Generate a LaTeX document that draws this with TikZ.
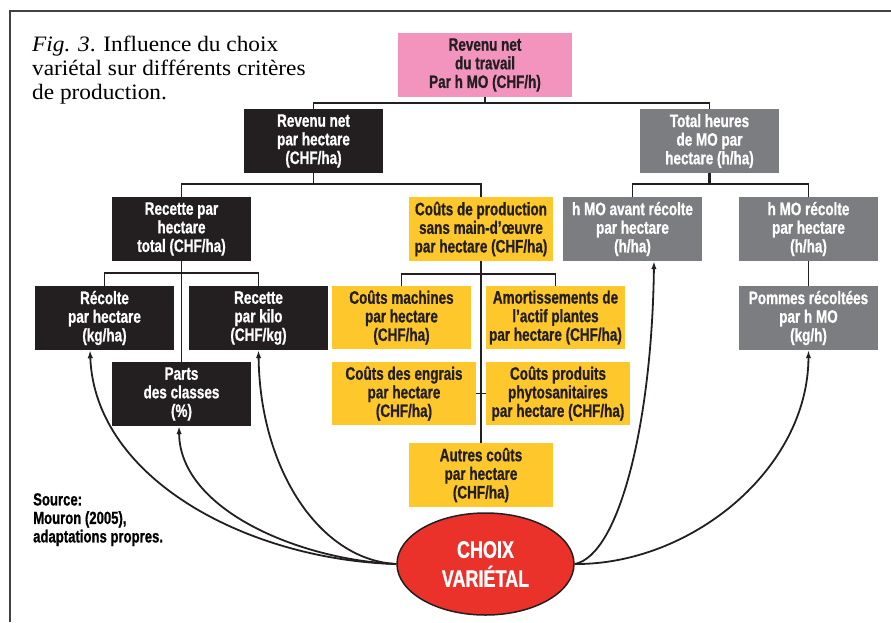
\documentclass[tikz,border=0pt]{standalone}
\usepackage{fontspec}
\setmainfont{Liberation Serif}
\newfontfamily\cond{Liberation Sans}[FakeStretch=0.75,FakeBold=0.8]
\newfontfamily\titlefont{Liberation Serif}[FakeStretch=1.06]
\usetikzlibrary{arrows.meta,shapes.geometric}
\definecolor{ink}{HTML}{231F20}
\definecolor{pinkbox}{HTML}{F294BE}
\definecolor{graybox}{HTML}{7C7D81}
\definecolor{yellowbox}{HTML}{FEC82C}
\definecolor{redell}{HTML}{EA322B}
\begin{document}
\begin{tikzpicture}[x=1pt,y=-1pt,
 box/.style={rectangle, inner sep=0pt, align=center, minimum height=64pt, minimum width=139pt, font=\cond\bfseries\fontsize{18}{18.6}\selectfont},
 blackbox/.style={box, fill=ink, text=white},
 greybox/.style={box, fill=graybox, text=white},
 yelbox/.style={box, fill=yellowbox, text=ink},
 pinkb/.style={box, fill=pinkbox, text=ink},
 tree/.style={draw=ink, line width=1.3pt},
 trunk/.style={draw=ink, line width=2.2pt},
 link/.style={draw=ink, line width=1.8pt, -{Latex[length=8pt,width=5.5pt]}},
 frame/.style={draw=ink!85, line width=1.5pt},
]
\useasboundingbox (0,0) rectangle (891,622);
\draw[frame] (10,622) -- (10,11) -- (891,11);

\node[anchor=north west, inner sep=0pt, align=left, font=\titlefont\fontsize{22}{24}\selectfont] (title) at (32,36) {\textit{Fig. 3}. Influence du choix\\variétal sur différents critères\\de production.};
\node[anchor=north west, inner sep=0pt, align=left, font=\cond\bfseries\fontsize{17.5}{18.5}\selectfont] (src) at (33,493) {Source:\\Mouron (2005),\\adaptations propres.};

\node[pinkb, minimum width=174pt] (pink) at (485,65) {Revenu net\\du travail\\Par h MO (CHF/h)};
\node[blackbox] (rn) at (313.5,141) {Revenu net\\par hectare\\(CHF/ha)};
\node[greybox] (th) at (709.5,141) {Total heures\\de MO par\\hectare (h/ha)};
\node[blackbox] (rph) at (181.5,229) {Recette par\\hectare\\total (CHF/ha)};
\node[yelbox, minimum width=144pt] (cp) at (481,229) {Coûts de production\\sans main-d’œuvre\\par hectare (CHF/ha)};
\node[greybox] (hav) at (632.5,229) {h MO avant récolte\\par hectare\\(h/ha)};
\node[greybox] (hr) at (808.5,229) {h MO récolte\\par hectare\\(h/ha)};
\node[blackbox] (rec) at (104.5,318) {Récolte\\par hectare\\(kg/ha)};
\node[blackbox] (rpk) at (258.5,318) {Recette\\par kilo\\(CHF/kg)};
\node[blackbox] (parts) at (181.5,394) {Parts\\des classes\\(\%)};
\node[yelbox, minimum height=63pt] (cm) at (401.5,317.5) {Coûts machines\\par hectare\\(CHF/ha)};
\node[yelbox, minimum height=63pt] (am) at (555.5,317.5) {Amortissements de\\l’actif plantes\\par hectare (CHF/ha)};
\node[yelbox, minimum height=63pt, minimum width=144pt] (ce) at (404,393.5) {Coûts des engrais\\par hectare\\(CHF/ha)};
\node[yelbox, minimum height=63pt, minimum width=144pt] (phy) at (558,393.5) {Coûts produits\\phytosanitaires\\par hectare (CHF/ha)};
\node[yelbox, minimum width=144pt] (ac) at (481,475) {Autres coûts\\par hectare\\(CHF/ha)};
\node[greybox] (pom) at (808.5,318) {Pommes récoltées\\par h MO\\(kg/h)};
\node[ellipse, fill=redell, draw=ink, line width=1.5pt, minimum width=177pt, minimum height=102pt, inner sep=0pt, text=white, align=center, font=\cond\bfseries\fontsize{24}{29}\selectfont] (cv) at (485.5,564) {CHOIX\\VARIÉTAL};

\coordinate (bus1) at (0,103);
\coordinate (bus2) at (0,184);
\coordinate (bus3) at (0,273);
\coordinate (bus4) at (0,274);
\draw[tree] (pink.south) -- (pink.south |- bus1);
\draw[tree] (rn.north) -- (rn.north |- bus1) -| (th.north);
\draw[tree] (rn.south) -- (rn.south |- bus2);
\draw[tree] (rph.north) -- (rph.north |- bus2) -| (cp.north);
\draw[trunk] (th.south) -- (th.south |- bus2);
\draw[tree] (hav.north) -- (hav.north |- bus2) -| (hr.north);
\draw[tree] (rph.south) -- (parts.north);
\draw[tree] (rec.north) -- (rec.north |- bus3) -| (rpk.north);
\draw[trunk] (cp.south) -- (ac.north);
\draw[tree] (cm.north) -- (cm.north |- bus4) -| (am.north);
\draw[tree] (ce.east) -- (phy.west);
\draw[tree] (hr.south) -- (pom.north);

\draw[link] (cv.west) .. controls (250,560) and (95,480) .. ([xshift=-14.5pt]rec.south);
\draw[link] (cv.west) .. controls (300,560) and (180,510) .. ([xshift=-2.5pt]parts.south);
\draw[link] (cv.west) .. controls (320,560) and (260,470) .. (rpk.south);
\draw[link] (cv.east) .. controls (620,555) and (652,420) .. ([xshift=21.5pt]hav.south);
\draw[link] (cv.east) .. controls (690,565) and (808,470) .. (pom.south);
\end{tikzpicture}
\end{document}
